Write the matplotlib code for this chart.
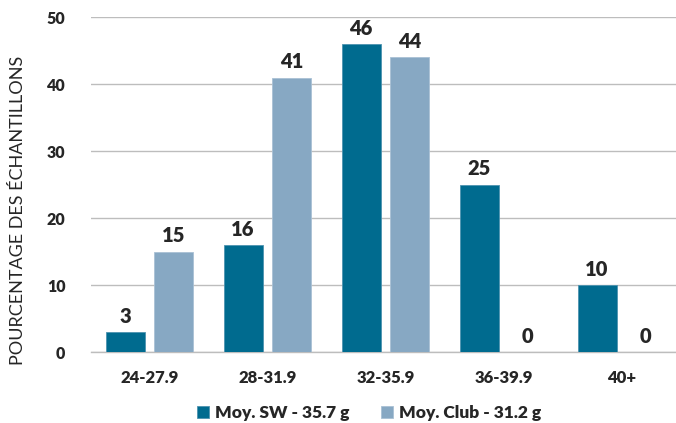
import matplotlib
matplotlib.use("Agg")
import matplotlib.pyplot as plt
import numpy as np

plt.rcParams['font.family'] = ['Lato', 'DejaVu Sans']

categories = ["24-27.9", "28-31.9", "32-35.9", "36-39.9", "40+"]
sw_values = [3, 16, 46, 25, 10]
club_values = [15, 41, 44, 0, 0]
series_names = ["Moy. SW - 35.7 g", "Moy. Club - 31.2 g"]
y_ticks = [0, 10, 20, 30, 40, 50]

dark = "#006B8F"
light = "#87A8C3"
text_col = "#262626"
heavy = "heavy"

W, H = 676, 423
fig = plt.figure(figsize=(W / 100, H / 100), dpi=100)
# plot area in pixel coordinates
left, right = 90.5, 680.5
bottom, top = 352.0, 17.3
ax = fig.add_axes([left / W, 1 - bottom / H, (right - left) / W, (bottom - top) / H])

x = np.arange(len(categories))
bw = 0.33
off = 0.207
b1 = ax.bar(x - off, sw_values, bw, color=dark, edgecolor="#4D93B0", linewidth=0.6, zorder=3)
b2 = ax.bar(x + off, club_values, bw, color=light, edgecolor="#A9C1D5", linewidth=0.6, zorder=3)

for bars, vals in ((b1, sw_values), (b2, club_values)):
    for rect, v in zip(bars, vals):
        ax.annotate(f"{v}", (rect.get_x() + rect.get_width() / 2, v),
                    xytext=(0, 4.5), textcoords="offset points",
                    ha="center", va="bottom", fontsize=14.5, fontweight=heavy,
                    color=text_col)

ax.set_xlim(-0.5, len(categories) - 0.5)
ax.set_ylim(0, 50)
ax.set_yticks(y_ticks)
ax.yaxis.grid(True, color="#BDBDBD", linewidth=1.0, zorder=0)
ax.set_axisbelow(True)
for s in ("top", "right", "left"):
    ax.spines[s].set_visible(False)
ax.spines["bottom"].set_color("#BDBDBD")
ax.spines["bottom"].set_linewidth(1.0)
ax.tick_params(axis="both", length=0)
ax.tick_params(axis="y", pad=18, labelsize=11.5, labelcolor=text_col)
ax.tick_params(axis="x", pad=13, labelsize=12, labelcolor=text_col)
ax.set_xticks(x)
ax.set_xticklabels(categories)
for lab in ax.get_xticklabels() + ax.get_yticklabels():
    lab.set_fontweight(heavy)

fig.text(18 / W, 1 - 210 / H, "POURCENTAGE DES ÉCHANTILLONS", rotation=90,
         ha="center", va="center", fontsize=13, color=text_col)

leg = fig.legend([b1, b2], series_names, loc="center", bbox_to_anchor=(369 / W, 1 - 413 / H),
                 ncol=2, frameon=False, handlelength=0.7, handleheight=0.7,
                 handletextpad=0.35, columnspacing=1.8,
                 prop={"size": 12.5, "weight": heavy})
for t in leg.get_texts():
    t.set_color(text_col)

fig.savefig("out.png", dpi=100)
